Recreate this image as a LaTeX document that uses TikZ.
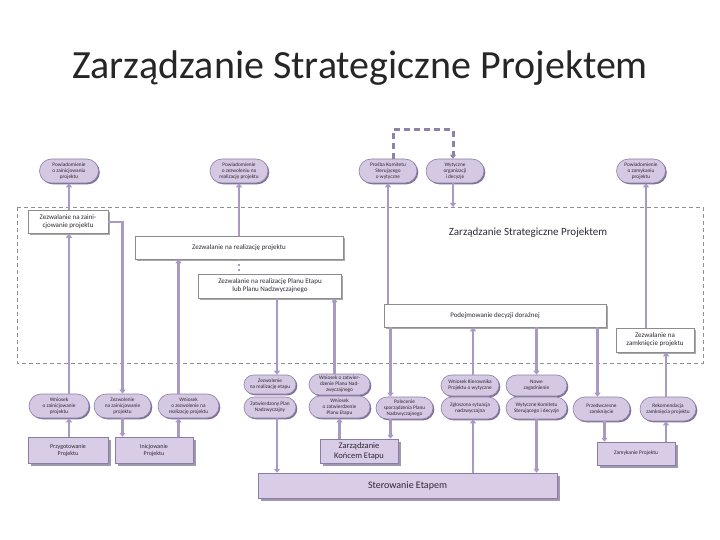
\documentclass[tikz,border=0pt]{standalone}
\usepackage{fontspec}
\setmainfont{Carlito}
\usepackage{tikz}
\usetikzlibrary{arrows.meta,shapes.misc,shadows}
\definecolor{msgfill}{HTML}{D4C8E2}
\definecolor{msgline}{HTML}{8D7FA6}
\definecolor{msgshade}{HTML}{7E6F96}
\definecolor{procfill}{HTML}{D8CCE7}
\definecolor{procline}{HTML}{8A7CA2}
\definecolor{procshade}{HTML}{A097B0}
\definecolor{authline}{HTML}{8C8C8C}
\definecolor{authshade}{HTML}{A8A8A8}
\definecolor{flowc}{HTML}{A89AC4}
\definecolor{loopc}{HTML}{8E82A8}
\definecolor{framec}{HTML}{909090}
\definecolor{txt}{HTML}{2E2833}

\begin{document}
\begin{tikzpicture}[x=1pt, y=-1pt, font=\fontsize{5.3}{5.9}\selectfont,
    >={Triangle[width=6pt, length=4pt]},
    msg/.style={rounded rectangle, draw=msgline, fill=msgfill, line width=0.6pt,
                align=center, inner sep=1pt, text=txt,
                drop shadow={shadow xshift=1.3pt, shadow yshift=-1.3pt,
                             fill=msgshade, opacity=1}},
    auth/.style={draw=authline, fill=white, line width=0.5pt, align=center,
                 inner sep=1pt, text=txt, font=\fontsize{7}{8}\selectfont,
                 drop shadow={shadow xshift=1.8pt, shadow yshift=-1.8pt,
                              fill=authshade, opacity=1}},
    proc/.style={draw=procline, fill=procfill, line width=0.5pt, align=center,
                 inner sep=1pt, text=txt,
                 drop shadow={shadow xshift=2.5pt, shadow yshift=-2.5pt,
                              fill=procshade, opacity=1}},
    flow/.style={draw=flowc, line width=2.6pt, ->}]
  \useasboundingbox (0,0) rectangle (720,540);
  \node[font=\fontsize{40}{44}\selectfont, text=black!85] (title) at (360,68)
        {Zarządzanie Strategiczne Projektem};

  % ramka zarzadzania strategicznego
  \draw[framec, line width=0.8pt, dash pattern=on 4pt off 3pt]
        (17,207) coordinate (fr-nw) rectangle (703,363) coordinate (fr-se);
  \node[font=\fontsize{11}{13}\selectfont, text=txt] (frlabel) at (528,233)
        {Zarządzanie Strategiczne Projektem};

  % powiadomienia u gory
  \node[msg, minimum width=61, minimum height=24] (a1) at (69,171)
        {Powiadomienie\\o zainicjowaniu\\projektu};
  \node[msg, minimum width=60, minimum height=24] (a2) at (239,171)
        {Powiadomienie\\o zezwoleniu na\\realizację projektu};
  \node[msg, minimum width=60, minimum height=24] (a3) at (388,171)
        {Prośba Komitetu\\Sterującego\\o wytyczne};
  \node[msg, minimum width=60, minimum height=24] (a4) at (455,171)
        {Wytyczne\\organizacji\\i decyzje};
  \node[msg, minimum width=51, minimum height=24] (a5) at (641,171)
        {Powiadomienie\\o zamykaniu\\projektu};

  % zezwolenia komitetu
  \node[auth, minimum width=80, minimum height=23] (b1) at (68,222)
        {Zezwalanie na zaini-\\cjowanie projektu};
  \node[auth, minimum width=208, minimum height=23] (b2) at (239,247.5)
        {Zezwalanie na realizację projektu};
  \node[auth, minimum width=143, minimum height=24] (b3) at (270,286)
        {Zezwalanie na realizację Planu Etapu\\lub Planu Nadzwyczajnego};
  \node[auth, minimum width=222, minimum height=23] (b4) at (495,315.5)
        {Podejmowanie decyzji doraźnej};
  \node[auth, minimum width=78, minimum height=24] (b5) at (655,340)
        {Zezwalanie na\\zamknięcie projektu};

  % komunikaty u dolu
  \node[msg, minimum width=62, minimum height=24] (c1) at (59,406)
        {Wniosek\\o zainicjowanie\\projektu};
  \node[msg, minimum width=59, minimum height=24] (c2) at (122.5,406)
        {Zezwolenie\\na zainicjowanie\\projektu};
  \node[msg, minimum width=63, minimum height=24] (c3) at (188.5,406)
        {Wniosek\\o zezwolenie na\\realizację projektu};
  \node[msg, minimum width=54, minimum height=19] (d1) at (270,384.5)
        {Zezwolenie\\na realizację etapu};
  \node[msg, minimum width=54, minimum height=21] (d2) at (270,407.5)
        {Zatwierdzony Plan\\Nadzwyczajny};
  \node[msg, minimum width=63, minimum height=21] (d3) at (339.5,384.5)
        {Wniosek o zatwier-\\dzenie Planu Nad-\\zwyczajnego};
  \node[msg, minimum width=63, minimum height=22] (d4) at (339.5,407)
        {Wniosek\\o zatwierdzenie\\Planu Etapu};
  \node[msg, minimum width=59, minimum height=22] (d5) at (404.5,408)
        {Polecenie\\sporządzenia Planu\\Nadzwyczajnego};
  \node[msg, minimum width=60, minimum height=21] (e1) at (470,385.5)
        {Wniosek Kierownika\\Projektu o wytyczne};
  \node[msg, minimum width=60, minimum height=22] (e2) at (470,408)
        {Zgłoszona sytuacja\\nadzwyczajna};
  \node[msg, minimum width=63, minimum height=21] (e3) at (536.5,385.5)
        {Nowe\\zagadnienie};
  \node[msg, minimum width=63, minimum height=22] (e4) at (536.5,408)
        {Wytyczne Komitetu\\Sterującego i decyzje};
  \node[msg, minimum width=59, minimum height=24] (e5) at (601.5,409)
        {Przedwczesne\\zamknięcie};
  \node[msg, minimum width=58, minimum height=24] (e6) at (668,409)
        {Rekomendacja\\zamknięcia projektu};

  % procesy
  \node[proc, minimum width=80, minimum height=26, font=\fontsize{6}{7}\selectfont]
        (p1) at (68,450) {Przygotowanie\\Projektu};
  \node[proc, minimum width=78, minimum height=26, font=\fontsize{6}{7}\selectfont]
        (p2) at (154,450) {Inicjowanie\\Projektu};
  \node[proc, minimum width=78, minimum height=24, font=\fontsize{8.5}{10}\selectfont]
        (p3) at (359,451) {Zarządzanie\\Końcem Etapu};
  \node[proc, minimum width=299, minimum height=25, font=\fontsize{10}{12}\selectfont]
        (p4) at (407.5,485.5) {Sterowanie Etapem};
  \node[proc, minimum width=78, minimum height=23, font=\fontsize{5.5}{6.5}\selectfont]
        (p5) at (636,453.5) {Zamykanie Projektu};

  % petla wytycznych
  \draw[loopc, line width=3pt, dash pattern=on 6pt off 4pt, ->]
        ([xshift=5]a3.north) -- ++(0,-29) -| ([xshift=-2]a4.north);

  % inicjowanie
  \draw[flow] ([xshift=10]c1.south |- p1.north) -- ([xshift=10]c1.south);
  \draw[flow] ([xshift=10]c1.north) -- ([xshift=10]c1.north |- b1.south);
  \draw[flow] (a1.south |- b1.north) -- (a1.south);
  \draw[flow] (b1.east) -| (c2.north);
  \draw[flow] (c2.south) -- (c2.south |- p2.north);
  \draw[flow] ([xshift=-10]c3.south |- p2.north) -- ([xshift=-10]c3.south);
  \draw[flow] ([xshift=-10]c3.north) -- ([xshift=-10]c3.north |- b2.south);
  \draw[flow] (a2.south |- b2.north) -- (a2.south);
  \draw[flowc, line width=2.6pt, dash pattern=on 2pt off 3pt]
        (b2.south) -- (b2.south |- b3.north);

  % etapy
  \draw[flow] ([xshift=7]d1.north |- b3.south) -- ([xshift=7]d1.north);
  \draw[flow] ([xshift=7]d2.south) -- ([xshift=7]d2.south |- p4.north);
  \draw[flow] ([xshift=-5]d3.north) -- ([xshift=-5]d3.north |- b3.south);
  \draw[flow] (d4.south |- p3.north) -- (d4.south);
  \draw[flow] (a3.south |- b4.north) -- (a3.south);
  \draw[flow] ([xshift=-14]d5.north |- b4.south) -- ([xshift=-14]d5.north);
  \draw[flow] ([xshift=-14]d5.south) -- ([xshift=-14]d5.south |- p3.north);
  \draw[flow] ([xshift=-2]a4.south) -- ([xshift=-2]a4.south |- fr-nw);

  % sytuacje nadzwyczajne
  \draw[flow] ([xshift=3]e1.north) -- ([xshift=3]e1.north |- b4.south);
  \draw[flow] ([xshift=3]e2.south |- p4.north) -- ([xshift=3]e2.south);
  \draw[flow] (e3.north |- b4.south) -- (e3.north);
  \draw[flow] (e4.south) -- (e4.south |- p4.north);

  % zamykanie
  \draw[flow] ([xshift=-4]e5.north |- b4.south) -- ([xshift=-4]e5.north);
  \draw[flow] ([xshift=3]e5.south) -- ([xshift=3]e5.south |- p5.north);
  \draw[flow] ([xshift=-2]e6.south |- p5.north) -- ([xshift=-2]e6.south);
  \draw[flow] ([xshift=-2]e6.north) -- ([xshift=-2]e6.north |- b5.south);
  \draw[flow] ([xshift=5]a5.south |- b5.north) -- ([xshift=5]a5.south);
\end{tikzpicture}
\end{document}
